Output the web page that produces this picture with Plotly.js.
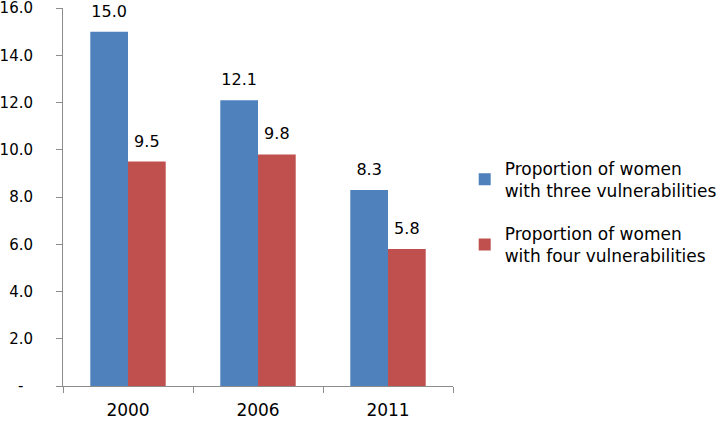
<!DOCTYPE html>
<html>
<head>
<meta charset="utf-8">
<script src="https://cdn.plot.ly/plotly-3.0.1.min.js"></script>
<style>html,body{margin:0;padding:0;background:#fff;}</style>
</head>
<body>
<div id="chart" style="width:723px;height:422px;"></div>
<script>
const years = ["2000", "2006", "2011"];
const threeVuln = [15.0, 12.1, 8.3];
const fourVuln = [9.5, 9.8, 5.8];
const seriesNames = ["Proportion of women<br>with three vulnerabilities", "Proportion of women<br>with four vulnerabilities"];
const tickVals = [0, 2, 4, 6, 8, 10, 12, 14, 16];
const tickText = ["-\u00a0\u00a0", "2.0", "4.0", "6.0", "8.0", "10.0", "12.0", "14.0", "16.0"];

const colors = ["#4F81BD", "#C0504D"];
const font = "DejaVu Sans, Arial, sans-serif";

const bars = [threeVuln, fourVuln].map((vals, i) => ({
  type: "bar", x: years, y: vals, name: seriesNames[i],
  marker: {color: colors[i]}, offsetgroup: String(i), legendgroup: "g" + i,
  hoverinfo: "skip"
}));
const labels = [threeVuln, fourVuln].map((vals, i) => ({
  type: "scatter", mode: "markers+text", x: years, y: vals,
  text: vals.map(v => v.toFixed(1)), textposition: "top center",
  textfont: {family: font, size: 16, color: "#000"},
  marker: {size: 16, opacity: 0}, showlegend: false, hoverinfo: "skip",
  offsetgroup: String(i), cliponaxis: false
}));

const layout = {
  width: 723, height: 422,
  margin: {l: 63, r: 270, t: 8, b: 36, autoexpand: false},
  paper_bgcolor: "#fff", plot_bgcolor: "#fff",
  barmode: "group", bargap: 0.42, bargroupgap: 0,
  scattermode: "group", scattergap: 0.42,
  showlegend: true,
  legend: {x: 1.03, xanchor: "left", y: 0.46, yanchor: "middle",
    font: {family: font, size: 17, color: "#000"}, tracegroupgap: 18,
    itemwidth: 30},
  xaxis: {type: "category", showline: true, linecolor: "#8c8c8c", linewidth: 1,
    ticks: "outside", tickson: "boundaries", ticklen: 6, tickcolor: "#8c8c8c",
    tickfont: {family: font, size: 17, color: "#000"}, showgrid: false,
    ticklabelstandoff: 9},
  yaxis: {range: [0, 16.0001], showline: true, linecolor: "#8c8c8c", linewidth: 1,
    ticks: "outside", ticklen: 6, tickcolor: "#8c8c8c", showgrid: false, zeroline: false,
    tickvals: tickVals, ticktext: tickText, ticklabeloverflow: "allow",
    tickfont: {family: font, size: 15, color: "#000"}, ticklabelstandoff: 20}
};

Plotly.newPlot("chart", bars.concat(labels), layout, {displayModeBar: false, staticPlot: true});
</script>
</body>
</html>
